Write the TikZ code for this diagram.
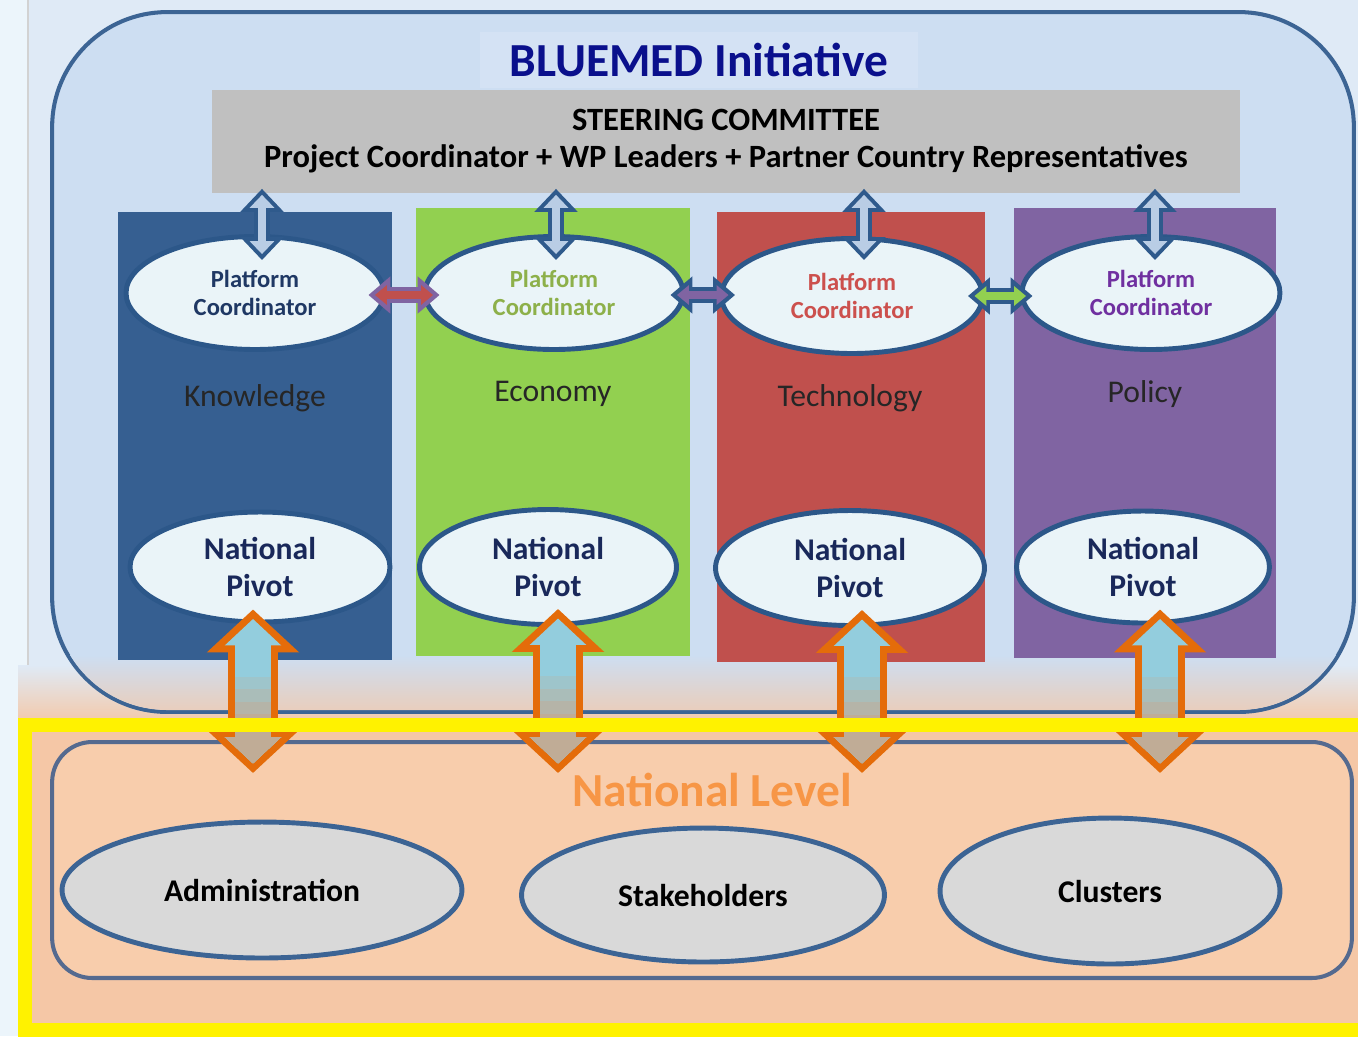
\documentclass[tikz,border=0pt]{standalone}
\usepackage{fontspec}
\setmainfont{Carlito}
\usetikzlibrary{shapes.geometric, arrows.meta, calc}

\definecolor{bgblue}{RGB}{223,234,246}
\definecolor{bgpale}{RGB}{236,245,251}
\definecolor{boxfill}{RGB}{205,222,242}
\definecolor{boxline}{RGB}{60,100,148}
\definecolor{titlebg}{RGB}{212,226,244}
\definecolor{titleblue}{RGB}{10,16,140}
\definecolor{steergray}{RGB}{192,192,192}
\definecolor{knwblue}{RGB}{54,95,145}
\definecolor{ecogreen}{RGB}{146,208,80}
\definecolor{tecred}{RGB}{192,80,77}
\definecolor{polpurple}{RGB}{128,100,162}
\definecolor{ovalfill}{RGB}{234,244,248}
\definecolor{ovalline}{RGB}{44,87,137}
\definecolor{linkblue}{RGB}{47,90,140}
\definecolor{paleblue}{RGB}{185,205,229}
\definecolor{orangeline}{RGB}{228,108,10}
\definecolor{skyfill}{RGB}{147,205,221}
\definecolor{tanfill}{RGB}{192,172,150}
\definecolor{peach}{RGB}{245,199,166}
\definecolor{natfill}{RGB}{248,205,172}
\definecolor{natline}{RGB}{85,106,143}
\definecolor{natorange}{RGB}{247,150,70}
\definecolor{grayfill}{RGB}{217,217,217}
\definecolor{pcnavy}{RGB}{31,56,100}
\definecolor{pcgreen}{RGB}{141,176,74}
\definecolor{pcred}{RGB}{204,80,77}
\definecolor{pcpurple}{RGB}{112,48,160}
\definecolor{npnavy}{RGB}{25,40,90}

\begin{document}
\begin{tikzpicture}[x=0.02cm, y=-0.02cm,
  coord/.style={ellipse, draw=ovalline, line width=2.8pt, fill=ovalfill, inner sep=0pt,
    minimum width=5.16cm, minimum height=2.26cm, align=center,
    font=\fontsize{14}{16}\selectfont\bfseries},
  pivot/.style={ellipse, draw=ovalline, line width=2.8pt, fill=ovalfill, inner sep=0pt,
    align=center, text=npnavy, font=\fontsize{18}{21.5}\selectfont\bfseries},
  group/.style={ellipse, draw=boxline, line width=2.8pt, fill=grayfill, inner sep=0pt,
    font=\fontsize{18}{21}\selectfont\bfseries},
  collab/.style={font=\fontsize{18}{21}\selectfont, text=black!85},
  vout/.style={draw=linkblue, line width=0.32cm,
    arrows={Triangle[length=0.46cm,width=0.84cm]-Triangle[length=0.46cm,width=0.84cm]}},
  vin/.style={draw=paleblue, line width=0.16cm, shorten <=0.12cm, shorten >=0.12cm,
    arrows={Triangle[length=0.26cm,width=0.48cm]-Triangle[length=0.26cm,width=0.48cm]}},
  hout/.style={line width=0.32cm,
    arrows={Triangle[length=0.44cm,width=0.72cm]-Triangle[length=0.44cm,width=0.72cm]}},
  hin/.style={line width=0.16cm, shorten <=0.13cm, shorten >=0.13cm,
    arrows={Triangle[length=0.24cm,width=0.38cm]-Triangle[length=0.24cm,width=0.38cm]}},
  oout/.style={draw=orangeline, line width=1cm,
    arrows={Triangle[length=0.86cm,width=1.8cm]-Triangle[length=0.86cm,width=1.8cm]}},
  oin/.style={draw=skyfill, line width=0.72cm, shorten <=0.19cm, shorten >=0.19cm,
    arrows={Triangle[length=0.53cm,width=1.1cm]-Triangle[length=0.53cm,width=1.1cm]}},
  otan/.style={line width=0.72cm, shorten >=0.19cm,
    arrows={-Triangle[length=0.53cm,width=1.1cm]}}]
\useasboundingbox (0,0) rectangle (1358,1036);

% Background
\fill[bgpale] (0,0) rectangle (1358,1036);
\fill[bgblue] (28,0) rectangle (1358,690);
\draw[gray!35, line width=0.6pt] (28,0) -- (28,690);
\shade[top color=bgblue, bottom color=peach] (18,665) rectangle (1358,725);
\fill[peach] (18,725) rectangle (1358,1036);

% Initiative box
\node[draw=boxline, line width=2.3pt, fill=boxfill, rounded corners=2.3cm,
  minimum width=26.04cm, minimum height=14cm] (init) at (703,362) {};
\begin{scope}
  \clip[rounded corners=2.26cm] (54,14) rectangle (1352,710);
  \shade[top color=boxfill, bottom color=peach!70!boxfill] (54,655) rectangle (1352,710);
\end{scope}
\node[fill=titlebg, minimum width=8.76cm, minimum height=1.12cm, text=titleblue,
  font=\fontsize{27}{30}\selectfont\bfseries] (title) at (699,60) {BLUEMED Initiative};

% Steering committee
\node[fill=steergray, minimum width=20.58cm, minimum height=2.06cm, align=center,
  font=\fontsize{18.5}{21.5}\selectfont\bfseries] (sc) at (726,141)
  {STEERING COMMITTEE\\Project Coordinator + WP Leaders + Partner Country Representatives};

% Platform columns
\node[fill=knwblue, minimum width=5.5cm, minimum height=8.96cm] (knw) at (255,436) {};
\node[fill=ecogreen, minimum width=5.48cm, minimum height=8.98cm] (eco) at (553,432) {};
\node[fill=tecred, minimum width=5.36cm, minimum height=9cm] (tec) at (851,437) {};
\node[fill=polpurple, minimum width=5.26cm, minimum height=9cm] (pol) at (1145,433) {};
\node[collab] (knwlab) at (255,398) {Knowledge};
\node[collab] (ecolab) at (553,394) {Economy};
\node[collab] (teclab) at (850,398) {Technology};
\node[collab] (pollab) at (1145,394) {Policy};

% Platform coordinators
\node[coord, text=pcnavy] (pc1) at (255,293) {Platform\\Coordinator};
\node[coord, text=pcgreen] (pc2) at (554,293) {Platform\\Coordinator};
\node[coord, text=pcred, minimum width=5.22cm, minimum height=2.3cm] (pc3) at (852,296) {Platform\\Coordinator};
\node[coord, text=pcpurple] (pc4) at (1151,293) {Platform\\Coordinator};

% National pivots
\node[pivot, minimum width=5.2cm, minimum height=2.2cm] (np1) at (260,567) {National\\Pivot};
\node[pivot, minimum width=5.14cm, minimum height=2.3cm] (np2) at (548,567) {National\\Pivot};
\node[pivot, minimum width=5.38cm, minimum height=2.3cm] (np3) at (850,568) {National\\Pivot};
\node[pivot, minimum width=5.06cm, minimum height=2.24cm] (np4) at (1143,567) {National\\Pivot};

% National level box
\node[draw=natline, line width=2.3pt, fill=natfill, rounded corners=0.8cm,
  minimum width=26cm, minimum height=4.72cm] (natbox) at (702,860) {};
\node[text=natorange, font=\fontsize{27}{30}\selectfont\bfseries] (natlab) at (712,790) {National Level};
\node[group, minimum width=8cm, minimum height=2.72cm] (adm) at (262,890) {Administration};
\node[group, minimum width=7.26cm, minimum height=2.68cm] (stk) at (703,895) {Stakeholders};
\node[group, minimum width=6.8cm, minimum height=2.92cm] (clu) at (1110,891) {Clusters};

% Steering links
\draw[vout] ($(pc1.north |- sc.south)+(7,-4)$) -- ($(pc1.north)+(7,26)$);
\draw[vin] ($(pc1.north |- sc.south)+(7,-4)$) -- ($(pc1.north)+(7,26)$);
\draw[vout] ($(pc2.north |- sc.south)+(2,-4)$) -- ($(pc2.north)+(2,26)$);
\draw[vin] ($(pc2.north |- sc.south)+(2,-4)$) -- ($(pc2.north)+(2,26)$);
\draw[vout] ($(pc3.north |- sc.south)+(12,-4)$) -- ($(pc3.north)+(12,24)$);
\draw[vin] ($(pc3.north |- sc.south)+(12,-4)$) -- ($(pc3.north)+(12,24)$);
\draw[vout] ($(pc4.north |- sc.south)+(4,-4)$) -- ($(pc4.north)+(4,26)$);
\draw[vin] ($(pc4.north |- sc.south)+(4,-4)$) -- ($(pc4.north)+(4,26)$);

% Coordinator links
\draw[hout, draw=polpurple] ($(pc1.east)+(-18,2)$) -- ($(pc2.west)+(17,2)$);
\draw[hin, draw=tecred] ($(pc1.east)+(-18,2)$) -- ($(pc2.west)+(17,2)$);
\draw[hout, draw=linkblue] ($(pc2.east)+(-15,2)$) -- ($(pc3.west)+(16,-1)$);
\draw[hin, draw=polpurple] ($(pc2.east)+(-15,2)$) -- ($(pc3.west)+(16,-1)$);
\draw[hout, draw=linkblue] ($(pc3.east)+(-17,0)$) -- ($(pc4.west)+(13,3)$);
\draw[hin, draw=ecogreen] ($(pc3.east)+(-17,0)$) -- ($(pc4.west)+(13,3)$);

% Pivot to national level links
\coordinate (o1t) at ($(np1.south)+(-7,-15)$);
\coordinate (o1b) at ($(np1.south |- natbox.north)+(-7,33)$);
\coordinate (o2t) at ($(np2.south)+(10,-18)$);
\coordinate (o2b) at ($(np2.south |- natbox.north)+(10,33)$);
\coordinate (o3t) at ($(np3.south)+(12,-18)$);
\coordinate (o3b) at ($(np3.south |- natbox.north)+(12,33)$);
\coordinate (o4t) at ($(np4.south)+(17,-16)$);
\coordinate (o4b) at ($(np4.south |- natbox.north)+(17,33)$);
\draw[oout] (o1t) -- (o1b);
\draw[oin] (o1t) -- (o1b);
\draw[otan, draw=tanfill!25!skyfill, shorten <=1.35cm] (o1t) -- (o1b);
\draw[otan, draw=tanfill!50!skyfill, shorten <=1.6cm] (o1t) -- (o1b);
\draw[otan, draw=tanfill!75!skyfill, shorten <=1.85cm] (o1t) -- (o1b);
\draw[otan, draw=tanfill, shorten <=2.1cm] (o1t) -- (o1b);
\draw[oout] (o2t) -- (o2b);
\draw[oin] (o2t) -- (o2b);
\draw[otan, draw=tanfill!25!skyfill, shorten <=1.35cm] (o2t) -- (o2b);
\draw[otan, draw=tanfill!50!skyfill, shorten <=1.6cm] (o2t) -- (o2b);
\draw[otan, draw=tanfill!75!skyfill, shorten <=1.85cm] (o2t) -- (o2b);
\draw[otan, draw=tanfill, shorten <=2.1cm] (o2t) -- (o2b);
\draw[oout] (o3t) -- (o3b);
\draw[oin] (o3t) -- (o3b);
\draw[otan, draw=tanfill!25!skyfill, shorten <=1.35cm] (o3t) -- (o3b);
\draw[otan, draw=tanfill!50!skyfill, shorten <=1.6cm] (o3t) -- (o3b);
\draw[otan, draw=tanfill!75!skyfill, shorten <=1.85cm] (o3t) -- (o3b);
\draw[otan, draw=tanfill, shorten <=2.1cm] (o3t) -- (o3b);
\draw[oout] (o4t) -- (o4b);
\draw[oin] (o4t) -- (o4b);
\draw[otan, draw=tanfill!25!skyfill, shorten <=1.35cm] (o4t) -- (o4b);
\draw[otan, draw=tanfill!50!skyfill, shorten <=1.6cm] (o4t) -- (o4b);
\draw[otan, draw=tanfill!75!skyfill, shorten <=1.85cm] (o4t) -- (o4b);
\draw[otan, draw=tanfill, shorten <=2.1cm] (o4t) -- (o4b);

% Highlight frame
\draw[yellow, line width=8.5pt] (25,725) rectangle (1390,1030);
\end{tikzpicture}
\end{document}
